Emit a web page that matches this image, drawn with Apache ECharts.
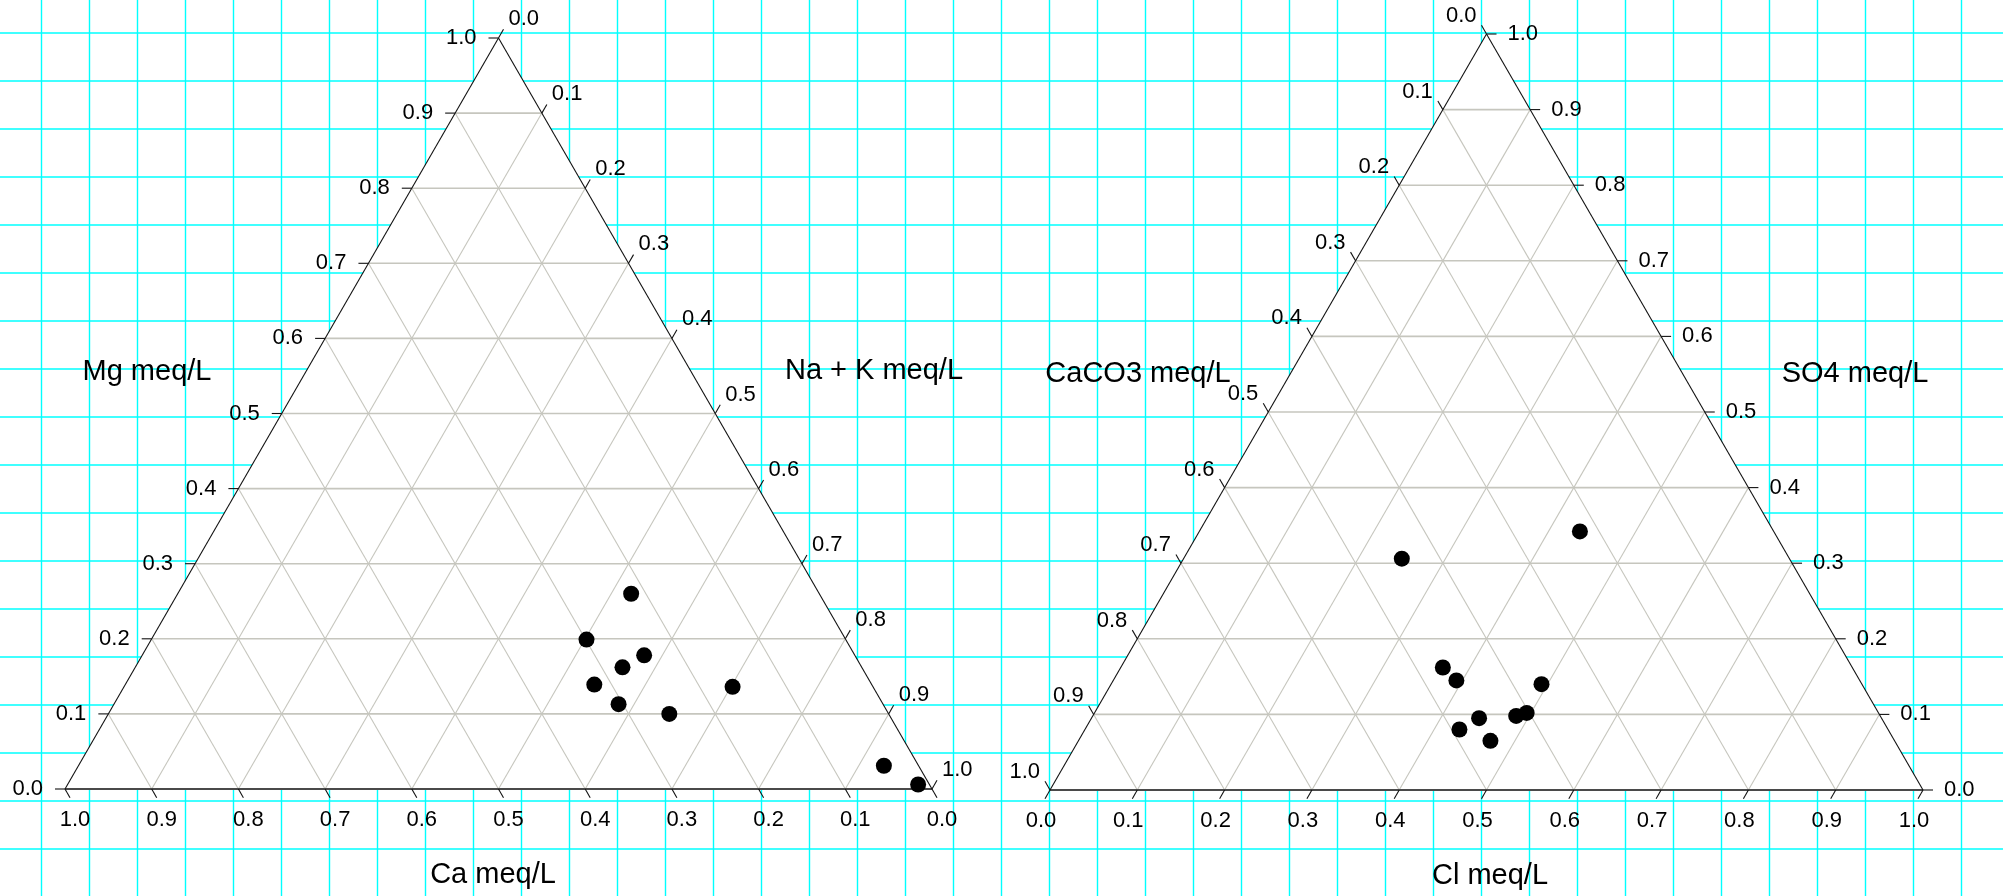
<!DOCTYPE html>
<html>
<head>
<meta charset="utf-8">
<script src="https://cdn.jsdelivr.net/npm/echarts@6/dist/echarts.min.js"></script>
<style>
html,body{margin:0;padding:0;background:#ffffff;}
#chart{width:2003px;height:896px;}
</style>
</head>
<body>
<div id="chart"></div>
<script>
// ---------- data ----------
const tickValues = [0, 0.1, 0.2, 0.3, 0.4, 0.5, 0.6, 0.7, 0.8, 0.9, 1.0];
const tickLabels = ['0.0', '0.1', '0.2', '0.3', '0.4', '0.5', '0.6', '0.7', '0.8', '0.9', '1.0'];
const gridSteps = [0.1, 0.2, 0.3, 0.4, 0.5, 0.6, 0.7, 0.8, 0.9];

// Cation triangle (left): Ca (bottom-left), Mg (top), Na + K (bottom-right)
const cationCa  = [0.217, 0.299, 0.243, 0.276, 0.320, 0.162, 0.305, 0.253, 0.040, 0.013];
const cationMg  = [0.260, 0.199, 0.178, 0.162, 0.139, 0.136, 0.113, 0.100, 0.031, 0.006];
const cationNaK = [0.523, 0.502, 0.579, 0.562, 0.541, 0.702, 0.582, 0.647, 0.929, 0.981];

// Anion triangle (right): CaCO3 (bottom-left), SO4 (top), Cl (bottom-right)
const anionCaCO3 = [0.222, 0.444, 0.469, 0.462, 0.367, 0.461, 0.417, 0.403, 0.491, 0.463];
const anionSO4   = [0.342, 0.306, 0.162, 0.145, 0.140, 0.095, 0.098, 0.102, 0.080, 0.065];
const anionCl    = [0.436, 0.250, 0.369, 0.393, 0.493, 0.444, 0.485, 0.495, 0.429, 0.472];

const cationTitles = ['Ca meq/L', 'Mg meq/L', 'Na + K meq/L'];
const anionTitles  = ['CaCO3 meq/L', 'SO4 meq/L', 'Cl meq/L'];

// ---------- helpers ----------
const H = Math.sqrt(3) / 2;
// ternary (bottom-left, apex, bottom-right) -> cartesian in triangle axis units
function tern(bl, apex, br) {
  const s = bl + apex + br;
  return [(br + apex / 2) / s, (apex / s) * H];
}

const FONT_TICK = '22px "Liberation Sans", Arial, sans-serif';
const FONT_TITLE = '29px "Liberation Sans", Arial, sans-serif';
const TICK_LEN = 10;

function fillSeries(ai) {
  return {
    type: 'custom', xAxisIndex: ai, yAxisIndex: ai, silent: true, z: 1,
    data: [[0, 0]],
    renderItem: function (params, api) {
      const p0 = api.coord([0, 0]), p1 = api.coord([1, 0]), p2 = api.coord([0.5, H]);
      return { type: 'polygon', shape: { points: [p0, p1, p2] }, style: { fill: '#ffffff', stroke: null } };
    }
  };
}

function gridSeries(ai) {
  const segs = [];
  gridSteps.forEach(function (t) {
    const a = tern(1 - t, t, 0), b = tern(0, t, 1 - t);     // apex component constant
    segs.push([a[0], a[1], b[0], b[1]]);
    const c = tern(0, 1 - t, t), d = tern(1 - t, 0, t);     // br component constant
    segs.push([c[0], c[1], d[0], d[1]]);
    const e = tern(t, 1 - t, 0), f = tern(t, 0, 1 - t);     // bl component constant
    segs.push([e[0], e[1], f[0], f[1]]);
  });
  return {
    type: 'custom', xAxisIndex: ai, yAxisIndex: ai, silent: true, z: 2,
    data: segs,
    renderItem: function (params, api) {
      const p = api.coord([api.value(0), api.value(1)]);
      const q = api.coord([api.value(2), api.value(3)]);
      const horiz = Math.abs(api.value(1) - api.value(3)) < 1e-9;
      return { type: 'line', shape: { x1: p[0], y1: p[1], x2: q[0], y2: q[1] },
        style: { stroke: '#c6c6be', lineWidth: horiz ? 1.6 : 1.1 } };
    }
  };
}

function edgeSeries(ai) {
  const v0 = tern(1, 0, 0), v1 = tern(0, 0, 1), v2 = tern(0, 1, 0);
  const segs = [
    [v0[0], v0[1], v1[0], v1[1], 1],
    [v0[0], v0[1], v2[0], v2[1], 0],
    [v1[0], v1[1], v2[0], v2[1], 0]
  ];
  return {
    type: 'custom', xAxisIndex: ai, yAxisIndex: ai, silent: true, z: 4,
    data: segs,
    renderItem: function (params, api) {
      const p = api.coord([api.value(0), api.value(1)]);
      const q = api.coord([api.value(2), api.value(3)]);
      const base = api.value(4) === 1;
      return { type: 'line', shape: { x1: p[0], y1: p[1], x2: q[0], y2: q[1] },
        style: { stroke: base ? '#4a4a4a' : '#111111', lineWidth: base ? 2 : 1.1 } };
    }
  };
}

// pointFn(t) -> ternary cartesian; dir: tick direction (screen); lab: [dx, dy, align]
function tickSeries(ai, pointFn, dir, lab) {
  const data = tickValues.map(function (t, i) { const p = pointFn(t); return [p[0], p[1], i]; });
  return {
    type: 'custom', xAxisIndex: ai, yAxisIndex: ai, silent: true, z: 5,
    data: data,
    renderItem: function (params, api) {
      const p = api.coord([api.value(0), api.value(1)]);
      const idx = api.value(2);
      return {
        type: 'group',
        children: [
          { type: 'line', shape: { x1: p[0], y1: p[1], x2: p[0] + dir[0] * TICK_LEN, y2: p[1] + dir[1] * TICK_LEN },
            style: { stroke: '#111111', lineWidth: 1.1 } },
          { type: 'text', style: { text: tickLabels[idx], x: p[0] + lab[0], y: p[1] + lab[1],
              align: lab[2], verticalAlign: 'middle', textAlign: lab[2], textVerticalAlign: 'middle',
              font: FONT_TICK, fill: '#000000' } }
        ]
      };
    }
  };
}

function scatterSeries(ai, bl, apex, br) {
  return {
    type: 'scatter', xAxisIndex: ai, yAxisIndex: ai, z: 6, silent: true,
    symbol: 'circle', symbolSize: 16,
    itemStyle: { color: '#000000', borderWidth: 0, opacity: 1 },
    emphasis: { disabled: true },
    data: bl.map(function (v, i) { return tern(v, apex[i], br[i]); })
  };
}

const hiddenParts = { axisLine: { show: false }, axisTick: { show: false }, axisLabel: { show: false } };

const option = {
  animation: false,
  backgroundColor: '#ffffff',
  grid: [
    { left: 41, top: 0, width: 1920, height: 896 },    // vertical background lines
    { left: 0, top: 33, width: 2003, height: 816 },    // horizontal background lines
    { left: 65, top: 38, width: 867, height: 751 },    // cation triangle
    { left: 1050, top: 34, width: 873, height: 756 }   // anion triangle
  ],
  xAxis: [
    Object.assign({ type: 'value', gridIndex: 0, min: 0, max: 40, interval: 1,
      splitLine: { show: true, lineStyle: { color: '#00ffff', width: 1.4 } } }, hiddenParts),
    Object.assign({ type: 'value', gridIndex: 1, min: 0, max: 1, splitLine: { show: false } }, hiddenParts),
    Object.assign({ type: 'value', gridIndex: 2, min: 0, max: 1, splitLine: { show: false } }, hiddenParts),
    Object.assign({ type: 'value', gridIndex: 3, min: 0, max: 1, splitLine: { show: false } }, hiddenParts)
  ],
  yAxis: [
    Object.assign({ type: 'value', gridIndex: 0, min: 0, max: 1, splitLine: { show: false } }, hiddenParts),
    Object.assign({ type: 'value', gridIndex: 1, min: 0, max: 17, interval: 1,
      splitLine: { show: true, lineStyle: { color: '#00ffff', width: 1.6 } } }, hiddenParts),
    Object.assign({ type: 'value', gridIndex: 2, min: 0, max: H, splitLine: { show: false } }, hiddenParts),
    Object.assign({ type: 'value', gridIndex: 3, min: 0, max: H, splitLine: { show: false } }, hiddenParts)
  ],
  graphic: [
    { type: 'text', x: 493, y: 875, z: 10, style: { text: cationTitles[0], font: FONT_TITLE, fill: '#000', align: 'center', verticalAlign: 'middle', textAlign: 'center', textVerticalAlign: 'middle' } },
    { type: 'text', x: 147, y: 372, z: 10, style: { text: cationTitles[1], font: FONT_TITLE, fill: '#000', align: 'center', verticalAlign: 'middle', textAlign: 'center', textVerticalAlign: 'middle' } },
    { type: 'text', x: 874, y: 371, z: 10, style: { text: cationTitles[2], font: FONT_TITLE, fill: '#000', align: 'center', verticalAlign: 'middle', textAlign: 'center', textVerticalAlign: 'middle' } },
    { type: 'text', x: 1138, y: 374, z: 10, style: { text: anionTitles[0], font: FONT_TITLE, fill: '#000', align: 'center', verticalAlign: 'middle', textAlign: 'center', textVerticalAlign: 'middle' } },
    { type: 'text', x: 1855, y: 374, z: 10, style: { text: anionTitles[1], font: FONT_TITLE, fill: '#000', align: 'center', verticalAlign: 'middle', textAlign: 'center', textVerticalAlign: 'middle' } },
    { type: 'text', x: 1490, y: 876, z: 10, style: { text: anionTitles[2], font: FONT_TITLE, fill: '#000', align: 'center', verticalAlign: 'middle', textAlign: 'center', textVerticalAlign: 'middle' } }
  ],
  series: [
    // cation triangle
    fillSeries(2),
    gridSeries(2),
    edgeSeries(2),
    tickSeries(2, function (t) { return tern(1 - t, t, 0); }, [-1, 0], [-22, 0, 'right']),          // Mg
    tickSeries(2, function (t) { return tern(t, 0, 1 - t); }, [0.5, 0.866], [10, 31, 'center']),    // Ca
    tickSeries(2, function (t) { return tern(0, 1 - t, t); }, [0.5, -0.866], [10, -19, 'left']),    // Na + K
    scatterSeries(2, cationCa, cationMg, cationNaK),
    // anion triangle
    fillSeries(3),
    gridSeries(3),
    edgeSeries(3),
    tickSeries(3, function (t) { return tern(0, t, 1 - t); }, [1, 0], [21, 0, 'left']),             // SO4
    tickSeries(3, function (t) { return tern(1 - t, 0, t); }, [-0.5, 0.866], [-9, 31, 'center']),   // Cl
    tickSeries(3, function (t) { return tern(t, 1 - t, 0); }, [-0.5, -0.866], [-10, -18, 'right']), // CaCO3
    scatterSeries(3, anionCaCO3, anionSO4, anionCl)
  ]
};

const chart = echarts.init(document.getElementById('chart'), null, { renderer: 'canvas', width: 2003, height: 896 });
chart.setOption(option);
</script>
</body>
</html>
